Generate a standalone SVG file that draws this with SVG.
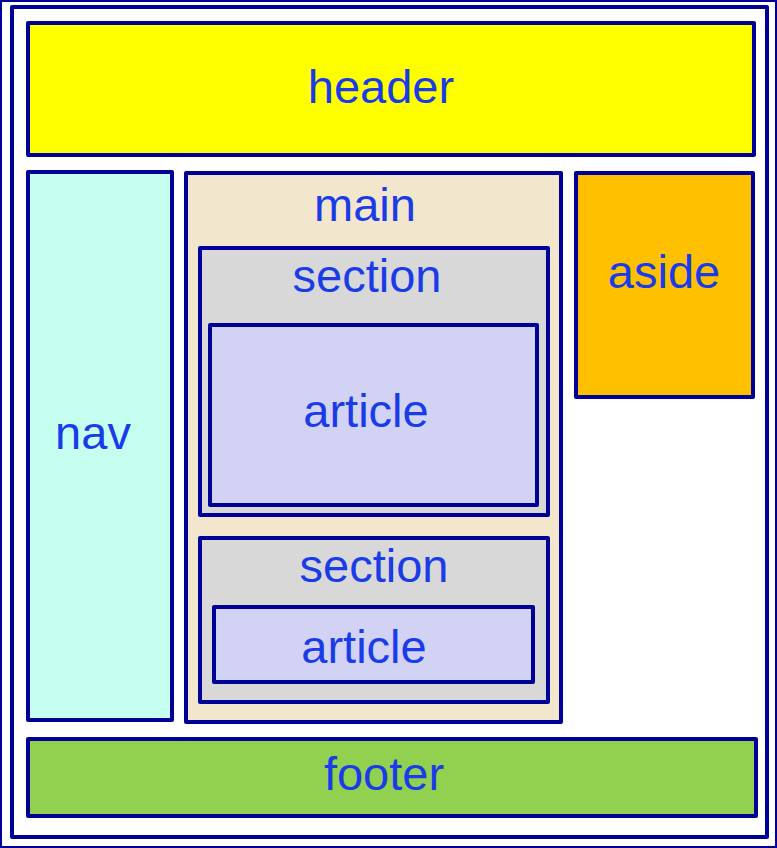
<svg xmlns="http://www.w3.org/2000/svg" width="777" height="848" viewBox="0 0 777 848">
<style>
rect{stroke:#000099;stroke-width:4;stroke-linejoin:round}
text{font-family:"Liberation Sans",Arial,sans-serif;font-size:47px;fill:#1a3ce8;text-anchor:middle}
</style>
<rect x="0" y="0" width="777" height="848" fill="#ffffff" stroke="none"/>
<g id="page"><rect x="12" y="7" width="755" height="830" fill="#ffffff"/></g>
<g id="header"><rect x="28" y="23" width="726" height="132" fill="#ffff00"/><text x="381" y="103">header</text></g>
<g id="nav"><rect x="28" y="172" width="144" height="548" fill="#c4fff0"/><text x="93" y="449">nav</text></g>
<g id="main"><rect x="186" y="173" width="375" height="549" fill="#f2e6cd"/><text x="365" y="221">main</text></g>
<g id="section1"><rect x="200" y="248" width="348" height="267" fill="#d8d8d8"/><text x="367" y="292">section</text></g>
<g id="article1"><rect x="210" y="325" width="327" height="180" fill="#d2d2f4"/><text x="366" y="427">article</text></g>
<g id="section2"><rect x="200" y="538" width="348" height="164" fill="#d8d8d8"/><text x="374" y="582">section</text></g>
<g id="article2"><rect x="214" y="607" width="319" height="75" fill="#d2d2f4"/><text x="364" y="663">article</text></g>
<g id="aside"><rect x="576" y="173" width="177" height="224" fill="#ffc000"/><text x="664" y="288">aside</text></g>
<g id="footer"><rect x="28" y="739" width="728" height="77" fill="#92d050"/><text x="384" y="790">footer</text></g>
<g id="connectors"></g>
</svg>
